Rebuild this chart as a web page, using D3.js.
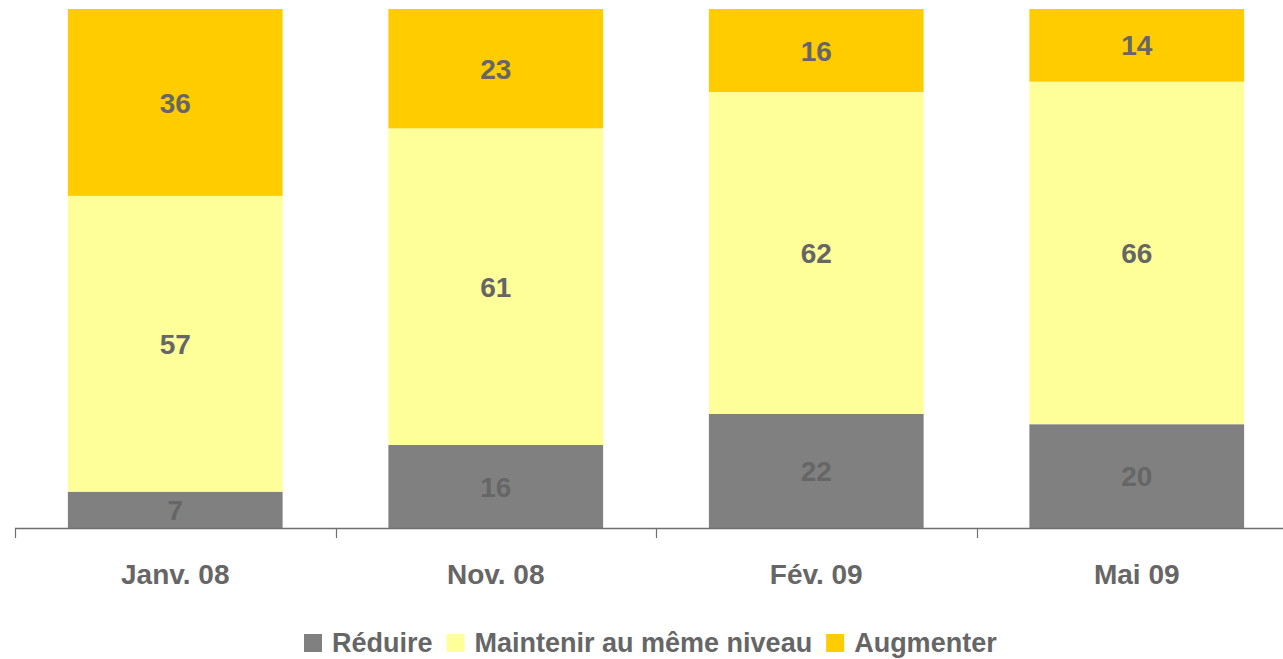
<!DOCTYPE html>
<html>
<head>
<meta charset="utf-8">
<script src="https://cdn.jsdelivr.net/npm/d3@7"></script>
<style>
  html, body { margin: 0; padding: 0; background: #ffffff; }
  svg { display: block; }
</style>
</head>
<body>
<svg id="chart" width="1283" height="659"></svg>
<script>
const categories = ["Janv. 08", "Nov. 08", "Fév. 09", "Mai 09"];
const seriesNames = ["Réduire", "Maintenir au même niveau", "Augmenter"];
const reduire = [7, 16, 22, 20];
const maintenir = [57, 61, 62, 66];
const augmenter = [36, 23, 16, 14];
const seriesColors = ["#808080", "#FFFF99", "#FFCC00"];

const W = 1283, H = 659;
const svg = d3.select("#chart");
const font = "'Liberation Sans', Arial, Helvetica, sans-serif";
const textColor = "#666666";

const rows = categories.map((c, i) => ({
  cat: c,
  "Réduire": reduire[i],
  "Maintenir au même niveau": maintenir[i],
  "Augmenter": augmenter[i]
}));

const stack = d3.stack().keys(seriesNames);
const stacked = stack(rows);

const x = d3.scaleBand()
  .domain(categories)
  .range([15, 1297])
  .paddingInner(0.33)
  .paddingOuter(0.165);

const y = d3.scaleLinear().domain([0, 100]).range([528, 9]);
const color = d3.scaleOrdinal().domain(seriesNames).range(seriesColors);

// bars
const layers = svg.append("g").selectAll("g")
  .data(stacked)
  .join("g")
  .attr("fill", d => color(d.key));

layers.selectAll("rect")
  .data(d => d.map(v => ({ key: d.key, v })))
  .join("rect")
  .attr("x", d => x(d.v.data.cat))
  .attr("y", d => y(d.v[1]))
  .attr("width", x.bandwidth())
  .attr("height", d => y(d.v[0]) - y(d.v[1]));

// value labels
layers.selectAll("text")
  .data(d => d.map(v => ({ key: d.key, v })))
  .join("text")
  .attr("x", d => x(d.v.data.cat) + x.bandwidth() / 2)
  .attr("y", d => (y(d.v[0]) + y(d.v[1])) / 2)
  .attr("dy", "0.36em")
  .attr("text-anchor", "middle")
  .attr("font-family", font)
  .attr("font-weight", "bold")
  .attr("font-size", 28)
  .attr("fill", textColor)
  .text(d => d.v[1] - d.v[0]);

// x axis
const step = x.step();
const axisG = svg.append("g");
axisG.append("line")
  .attr("x1", 15).attr("x2", W)
  .attr("y1", 528.5).attr("y2", 528.5)
  .attr("stroke", "#707070").attr("stroke-width", 1.5);
const tickX = d3.range(categories.length + 1).map(i => 15 + i * step);
axisG.selectAll("line.tick")
  .data(tickX)
  .join("line")
  .attr("class", "tick")
  .attr("x1", d => Math.round(d) + 0.5).attr("x2", d => Math.round(d) + 0.5)
  .attr("y1", 528).attr("y2", 538)
  .attr("stroke", "#707070").attr("stroke-width", 1.2);
axisG.selectAll("text")
  .data(categories)
  .join("text")
  .attr("x", d => x(d) + x.bandwidth() / 2)
  .attr("y", 584)
  .attr("text-anchor", "middle")
  .attr("font-family", font)
  .attr("font-weight", "bold")
  .attr("font-size", 28)
  .attr("fill", textColor)
  .text(d => d);

// legend
const legend = svg.append("g");
let lx = 304;
seriesNames.forEach((name, i) => {
  legend.append("rect")
    .attr("x", lx).attr("y", 634)
    .attr("width", 18).attr("height", 18)
    .attr("fill", seriesColors[i]);
  const t = legend.append("text")
    .attr("x", lx + 28).attr("y", 652)
    .attr("font-family", font)
    .attr("font-weight", "bold")
    .attr("font-size", 27)
    .attr("fill", textColor)
    .text(name);
  const w = t.node().getComputedTextLength();
  lx = lx + 28 + w + 14;
});
</script>
</body>
</html>
